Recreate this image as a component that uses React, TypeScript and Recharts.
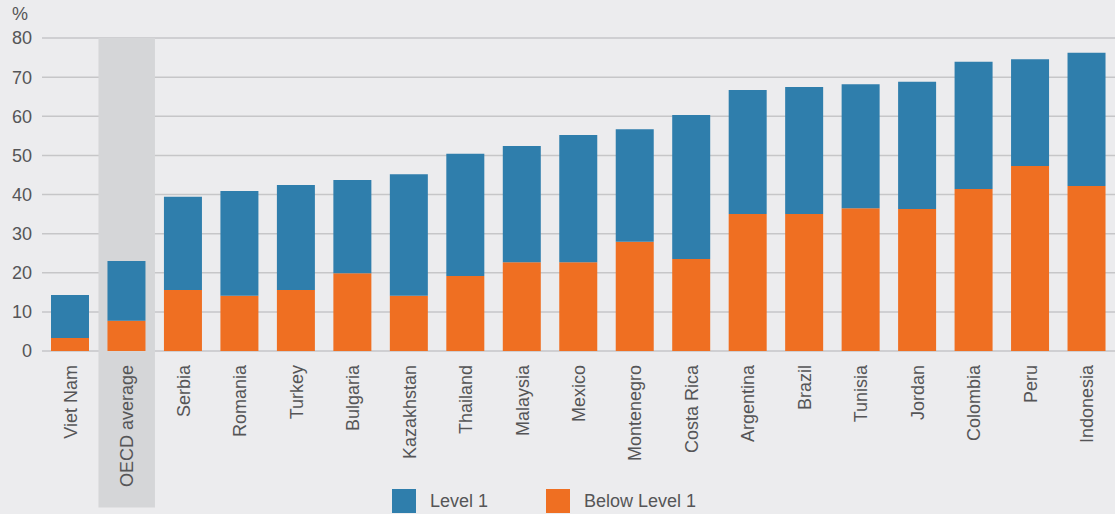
import {
  BarChart,
  Bar,
  XAxis,
  YAxis,
  CartesianGrid,
  ReferenceArea,
} from "recharts";

const countries = [
  "Viet Nam",
  "OECD average",
  "Serbia",
  "Romania",
  "Turkey",
  "Bulgaria",
  "Kazakhstan",
  "Thailand",
  "Malaysia",
  "Mexico",
  "Montenegro",
  "Costa Rica",
  "Argentina",
  "Brazil",
  "Tunisia",
  "Jordan",
  "Colombia",
  "Peru",
  "Indonesia",
];

// share of students below Level 1 (%)
const belowLevel1 = [
  3.3, 7.7, 15.6, 14.1, 15.6, 19.9, 14.1, 19.2, 22.7, 22.7, 27.9, 23.5, 35.0,
  35.0, 36.5, 36.3, 41.4, 47.3, 42.2,
];

// share of students at Level 1 (%)
const level1 = [
  11.0, 15.3, 23.8, 26.8, 26.8, 23.8, 31.1, 31.2, 29.7, 32.5, 28.8, 36.8, 31.7,
  32.5, 31.7, 32.5, 32.5, 27.3, 34.0,
];

const yTicks = [0, 10, 20, 30, 40, 50, 60, 70, 80];

const BLUE = "#2f7eac";
const ORANGE = "#ef6f22";
const TEXT = "#555557";
const FONT = "'Liberation Sans', Arial, Helvetica, sans-serif";

const data = countries.map((name, i) => ({
  name,
  below: belowLevel1[i],
  level1: level1[i],
}));

const legendItems = [
  { name: "Level 1", color: BLUE },
  { name: "Below Level 1", color: ORANGE },
];

const CountryTick = ({ x, y, payload }: any) => (
  <text
    transform={`translate(${x}, ${y}) rotate(-90)`}
    textAnchor="end"
    dy="0.36em"
    fill={TEXT}
    fontSize={18}
    fontFamily={FONT}
  >
    {payload.value}
  </text>
);

export default function App() {
  return (
    <div
      style={{
        position: "fixed",
        left: 0,
        top: 0,
        width: 1115,
        height: 514,
        background: "#ececee",
        fontFamily: FONT,
        overflow: "hidden",
      }}
    >
      <div
        style={{
          position: "absolute",
          left: 12,
          top: 4,
          fontSize: 18,
          color: TEXT,
        }}
      >
        %
      </div>
      <BarChart
        width={1115}
        height={514}
        data={data}
        margin={{ top: 38, right: 0, bottom: 43, left: 0 }}
        barSize={38}
      >
        <ReferenceArea
          x1="OECD average"
          x2="OECD average"
          y1={-40}
          y2={80}
          ifOverflow="visible"
          fill="#d5d6d8"
          fillOpacity={1}
          stroke="none"
        />
        <CartesianGrid
          vertical={false}
          stroke="#c6c6c8"
          strokeWidth={1.5}
        />
        <XAxis
          dataKey="name"
          interval={0}
          height={120}
          axisLine={false}
          tickLine={false}
          tickSize={0}
          tickMargin={14}
          tick={<CountryTick />}
        />
        <YAxis
          width={42}
          domain={[0, 80]}
          ticks={yTicks}
          axisLine={false}
          tickLine={false}
          tickSize={0}
          tickMargin={10}
          tick={{ fill: TEXT, fontSize: 18, fontFamily: FONT }}
        />
        <Bar
          dataKey="below"
          stackId="a"
          fill={ORANGE}
          name="Below Level 1"
          isAnimationActive={false}
        />
        <Bar
          dataKey="level1"
          stackId="a"
          fill={BLUE}
          name="Level 1"
          isAnimationActive={false}
        />
      </BarChart>
      <div
        style={{
          position: "absolute",
          left: 392,
          top: 489,
          display: "flex",
          alignItems: "center",
        }}
      >
        {legendItems.map((item, i) => (
          <div
            key={item.name}
            style={{
              display: "flex",
              alignItems: "center",
              marginRight: i === 0 ? 58 : 0,
            }}
          >
            <div
              style={{ width: 24, height: 24, background: item.color }}
            />
            <span
              style={{
                marginLeft: 14,
                fontSize: 18,
                color: TEXT,
                lineHeight: "24px",
              }}
            >
              {item.name}
            </span>
          </div>
        ))}
      </div>
    </div>
  );
}
